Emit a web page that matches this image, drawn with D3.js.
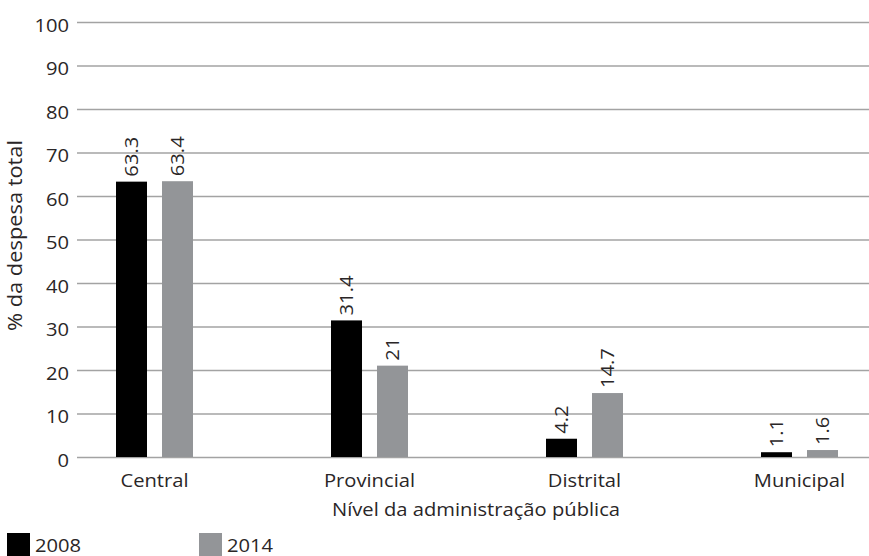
<!DOCTYPE html>
<html>
<head>
<meta charset="utf-8">
<script src="https://cdn.jsdelivr.net/npm/d3@7"></script>
<style>
  body { margin: 0; background: #fff; }
  text { font-family: "Open Sans", "Noto Sans", sans-serif; font-weight: 400; fill: #2a2627; }
</style>
</head>
<body>
<div id="chart"></div>
<script>
// données du graphique
const categories = ["Central", "Provincial", "Distrital", "Municipal"];
const series = ["2008", "2014"];
const values2008 = [63.3, 31.4, 4.2, 1.1];
const values2014 = [63.4, 21, 14.7, 1.6];
const yTicks = [0, 10, 20, 30, 40, 50, 60, 70, 80, 90, 100];
const yTitle = "% da despesa total";
const xTitle = "Nível da administração pública";

const colors = { "2008": "#000000", "2014": "#939598" };
const W = 869, H = 556;
const plotLeft = 77, plotRight = 869;
const stretch = 1.12; // la police de l'original est plus large

const svg = d3.select("#chart").append("svg")
    .attr("width", W)
    .attr("height", H);

const y = d3.scaleLinear().domain([0, 100]).range([457, 22]);

const x0 = d3.scaleBand().domain(categories).range([47, 907]);
const x1 = d3.scaleBand().domain(series).range([-38.5, 38.5]).paddingInner(0.326);

// grille + graduations
const gy = svg.append("g")
    .attr("transform", `translate(${plotLeft},0)`)
    .call(d3.axisLeft(y).tickValues(yTicks).tickSize(-(plotRight - plotLeft)).tickPadding(8));
gy.select(".domain").remove();
gy.selectAll(".tick line").attr("stroke", "#a3a3a3").attr("stroke-width", 1.4);
gy.selectAll(".tick text")
    .attr("x", null).attr("dy", null)
    .attr("transform", `translate(-8,9) scale(${stretch},1)`)
    .attr("font-size", 18)
    .attr("font-family", null);

// barres
const data = categories.map((c, i) => ({ cat: c, vals: [
    { s: "2008", v: values2008[i] },
    { s: "2014", v: values2014[i] }
]}));

const groups = svg.selectAll(".grp").data(data).enter().append("g")
    .attr("class", "grp")
    .attr("transform", d => `translate(${x0(d.cat) + x0.bandwidth() / 2},0)`);

groups.selectAll("rect").data(d => d.vals).enter().append("rect")
    .attr("x", d => x1(d.s))
    .attr("y", d => y(d.v))
    .attr("width", x1.bandwidth())
    .attr("height", d => y(0) - y(d.v))
    .attr("fill", d => colors[d.s]);

// étiquettes de valeurs (verticales)
groups.selectAll(".lbl").data(d => d.vals).enter().append("text")
    .attr("class", "lbl")
    .attr("font-size", 18)
    .attr("text-anchor", "start")
    .attr("dy", "0.36em")
    .attr("transform", d => `translate(${x1(d.s) + x1.bandwidth() / 2},${y(d.v) - 5}) rotate(-90) scale(${stretch},1)`)
    .text(d => d.v);

// axe des catégories
const gx = svg.append("g")
    .attr("transform", `translate(0,${y(0)})`)
    .call(d3.axisBottom(x0).tickSize(0));
gx.select(".domain").remove();
gx.selectAll(".tick text")
    .attr("y", null).attr("dy", null)
    .attr("transform", `translate(0,29.5) scale(${stretch},1)`)
    .attr("font-size", 18)
    .attr("font-family", null);

// titres des axes
svg.append("text")
    .attr("font-size", 18)
    .attr("text-anchor", "middle")
    .attr("transform", `translate(476,516) scale(${stretch},1)`)
    .text(xTitle);

svg.append("text")
    .attr("font-size", 19.5)
    .attr("text-anchor", "middle")
    .attr("transform", `translate(22,235.5) rotate(-90) scale(${stretch},1)`)
    .text(yTitle);

// légende
const legX = [7, 199];
const leg = svg.selectAll(".leg").data(series).enter().append("g")
    .attr("class", "leg")
    .attr("transform", (d, i) => `translate(${legX[i]},533)`);
leg.append("rect")
    .attr("width", 23).attr("height", 23)
    .attr("fill", d => colors[d]);
leg.append("text")
    .attr("font-size", 18)
    .attr("transform", `translate(28,18.5) scale(${stretch},1)`)
    .text(d => d);
</script>
</body>
</html>
